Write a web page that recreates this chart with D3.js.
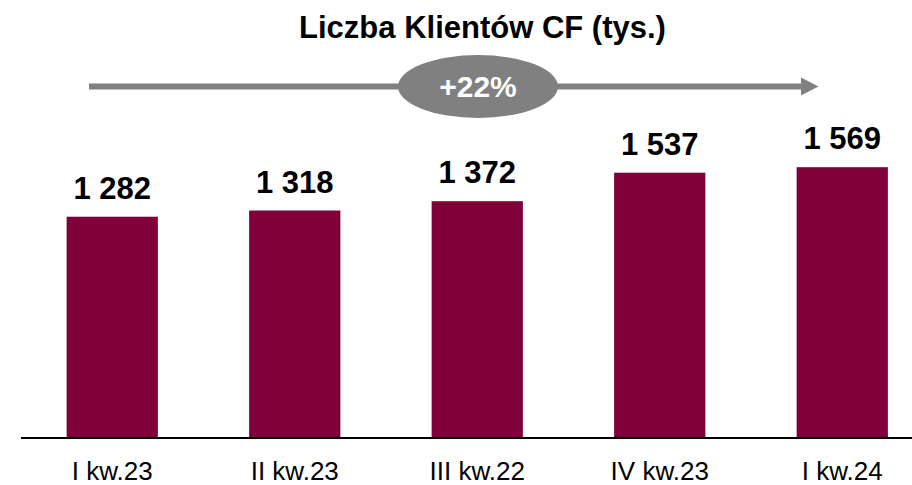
<!DOCTYPE html>
<html><head><meta charset="utf-8">
<script src="https://cdn.jsdelivr.net/npm/d3@7"></script>
<style>
html,body{margin:0;padding:0;background:#fff;}
svg{display:block;font-family:"Liberation Sans",Arial,Helvetica,sans-serif;}
</style></head>
<body>
<script>
const categories = ["I kw.23", "II kw.23", "III kw.22", "IV kw.23", "I kw.24"];
const values = [1282, 1318, 1372, 1537, 1569];
const valueLabels = ["1 282", "1 318", "1 372", "1 537", "1 569"];
const title = "Liczba Klientów CF (tys.)";
const growthLabel = "+22%";

const W = 912, H = 485;
const svg = d3.select("body").append("svg").attr("width", W).attr("height", H);

const baseY = 438;
const x = d3.scaleBand().domain(categories).range([21, 933.5]).paddingInner(0.5).paddingOuter(0.25);
const y = d3.scaleLinear().domain([0, 1800]).range([baseY, baseY - 1800 * 0.1726]);

// bars
svg.selectAll("rect.bar").data(values).join("rect")
  .attr("class", "bar")
  .attr("x", (d, i) => x(categories[i]))
  .attr("width", x.bandwidth())
  .attr("y", d => y(d))
  .attr("height", d => y(0) - y(d))
  .attr("fill", "#80003a");

// value labels
svg.selectAll("text.val").data(values).join("text")
  .attr("class", "val")
  .attr("x", (d, i) => x(categories[i]) + x.bandwidth() / 2)
  .attr("y", d => y(d) - 18)
  .attr("text-anchor", "middle")
  .attr("font-size", 31).attr("font-weight", "bold").attr("fill", "#000")
  .text((d, i) => valueLabels[i]);

// axis
const axis = d3.axisBottom(x).tickSize(0).tickPadding(0);
const ag = svg.append("g").attr("transform", `translate(0,${baseY})`).call(axis);
ag.select(".domain").attr("d", `M21,0H${W}`).attr("stroke", "#000").attr("stroke-width", 2);
ag.selectAll(".tick text")
  .attr("dy", null).attr("y", 42)
  .attr("font-size", 26).attr("fill", "#000")
  .attr("font-family", "'Liberation Sans',Arial,sans-serif");

// title
svg.append("text").attr("x", 482.5).attr("y", 37.5)
  .attr("text-anchor", "middle").attr("font-size", 31).attr("font-weight", "bold")
  .text(title);

// growth arrow
const arrowY = 86.5;
svg.append("line").attr("x1", 89).attr("x2", 803).attr("y1", arrowY).attr("y2", arrowY)
  .attr("stroke", "#808080").attr("stroke-width", 6);
svg.append("path").attr("d", `M801,${arrowY - 9}L818.5,${arrowY}L801,${arrowY + 9}Z`).attr("fill", "#808080");
svg.append("ellipse").attr("cx", 478).attr("cy", arrowY).attr("rx", 80).attr("ry", 31.5).attr("fill", "#808080");
svg.append("text").attr("x", 478).attr("y", 97)
  .attr("text-anchor", "middle").attr("font-size", 30).attr("font-weight", "bold").attr("fill", "#fff")
  .text(growthLabel);
</script>
</body></html>
